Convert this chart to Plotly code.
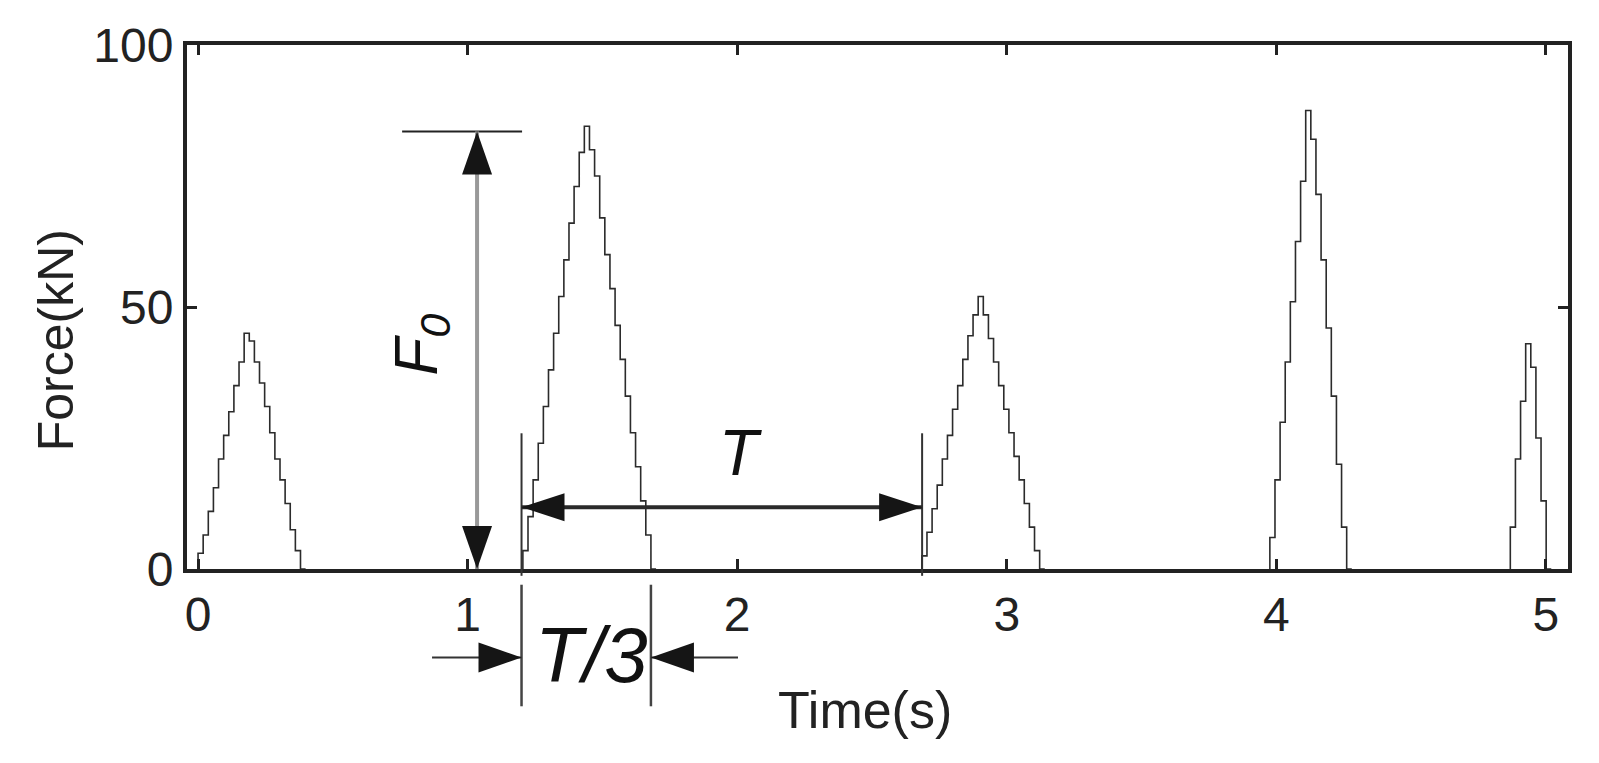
import plotly.graph_objects as go

# sampled force pulses (kN), one list per pulse, sampled every SAMPLE_DT seconds
SAMPLE_DT = 0.019
PULSE_STARTS = [0.0, 1.205, 2.685, 3.976, 4.868]
PULSE_1 = [0, 3, 6.5, 11, 15.5, 21, 25.5, 30, 35, 39.5, 45, 43.5, 39.5, 35.5, 31, 26, 21, 17,
           12.5, 7.5, 3.5, 0]
PULSE_2 = [0, 3.5, 10, 17, 24, 31, 38, 45, 52, 59, 66, 73, 79.5, 84.5, 80, 75, 67, 60, 53.5,
           46.5, 40, 33, 26, 19.5, 13, 6.5, 0]
PULSE_3 = [0, 2.5, 7, 11.5, 16, 21, 25.5, 30.5, 35, 40, 44.5, 48.5, 52, 48.5, 44, 39.5, 35,
           30.5, 26, 21.5, 17, 12.5, 8, 3.5, 0]
PULSE_4 = [0, 6, 17, 28, 39.5, 51, 62.5, 74, 87.5, 82, 71.5, 59, 46, 33, 20, 8, 0]
PULSE_5 = [0, 8, 21, 32, 43, 38.5, 25, 13, 0]
PULSES = [PULSE_1, PULSE_2, PULSE_3, PULSE_4, PULSE_5]

X_TICKS = [0, 1, 2, 3, 4, 5]
Y_TICKS = [0, 50, 100]

# annotation values
F0 = 83.5
F0_X = 1.035
F0_LINE = [0.757, 1.202]
T_START = 1.2
T_END = 2.686
T_THIRD_END = 1.68
T_ARROW_Y = 11.8
T_MARK_TOP = 25.9

FONT = 'Arial, Liberation Sans, Helvetica, sans-serif'
INK = '#222222'

x_all = []
y_all = []
for start, vals in zip(PULSE_STARTS, PULSES):
    x_all += [start + i * SAMPLE_DT for i in range(len(vals))] + [None]
    y_all += vals + [None]

fig = go.Figure()
fig.add_trace(go.Scatter(x=x_all, y=y_all, mode='lines',
                         line={'color': '#2b2b2b', 'width': 1.6, 'shape': 'vh'},
                         hoverinfo='skip', showlegend=False))

shapes = []


def line(x0, y0, x1, y1, color, width, yref='y'):
    shapes.append(dict(type='line', xref='x', yref=yref, x0=x0, y0=y0, x1=x1, y1=y1,
                       line={'color': color, 'width': width}, layer='above'))


def head(x, y, direction, length=43, half=15, yref='y'):
    # filled arrowhead, tip at (x, y), sized in pixels
    paths = {
        'up': f'M0,0 L{-half},{-length} L{half},{-length} Z',
        'down': f'M0,0 L{-half},{length} L{half},{length} Z',
        'right': f'M0,0 L{-length},{half} L{-length},{-half} Z',
        'left': f'M0,0 L{length},{half} L{length},{-half} Z',
    }
    shapes.append(dict(type='path', xref='x', yref=yref, xsizemode='pixel', ysizemode='pixel',
                       xanchor=x, yanchor=y, path=paths[direction],
                       fillcolor='#151515', line={'width': 0}, layer='above'))


# F0 dimension
line(F0_LINE[0], F0, F0_LINE[1], F0, INK, 2)
line(F0_X, 0, F0_X, F0, '#999999', 4)
head(F0_X, F0, 'up')
head(F0_X, 0, 'down')

# T dimension
line(T_START, -0.013, T_START, T_MARK_TOP / 100, '#333333', 2, yref='paper')
line(T_END, -0.013, T_END, T_MARK_TOP / 100, '#333333', 2, yref='paper')
line(T_START, T_ARROW_Y, T_END, T_ARROW_Y, '#2a2a2a', 4)
head(T_START, T_ARROW_Y, 'left', half=14)
head(T_END, T_ARROW_Y, 'right', half=14)

# T/3 dimension below the axis
line(T_START, -0.03, T_START, -0.262, '#444444', 2.5, yref='paper')
line(T_THIRD_END, -0.03, T_THIRD_END, -0.262, '#444444', 2.5, yref='paper')
line(0.868, -0.169, T_START, -0.169, '#333333', 2, yref='paper')
line(T_THIRD_END, -0.169, 2.003, -0.169, '#333333', 2, yref='paper')
head(T_START, -0.169, 'right', yref='paper')
head(T_THIRD_END, -0.169, 'left', yref='paper')

annotations = [
    dict(text='<i>T</i>', x=2.014, y=22.2, xref='x', yref='y', showarrow=False,
         xanchor='center', yanchor='middle',
         font={'size': 64, 'color': '#111111', 'family': FONT}),
    dict(text='<i>T/3</i>', x=1.461, y=-0.165, xref='x', yref='paper', showarrow=False,
         xanchor='center', yanchor='middle',
         font={'size': 78, 'color': '#111111', 'family': FONT}),
    dict(text='<i>F<sub>0</sub></i>', x=0.823, y=42.8, xref='x', yref='y', showarrow=False,
         xanchor='center', yanchor='middle', textangle=-90,
         font={'size': 62, 'color': '#111111', 'family': FONT}),
    dict(text='Force(kN)', x=-0.0947, y=0.437, xref='paper', yref='paper', showarrow=False,
         xanchor='center', yanchor='middle', textangle=-90,
         font={'size': 50, 'color': INK, 'family': FONT}),
    dict(text='Time(s)', x=2.474, y=-0.27, xref='x', yref='paper', showarrow=False,
         xanchor='center', yanchor='middle',
         font={'size': 52, 'color': INK, 'family': FONT}),
]

# the page body adds an 8px offset, so the margins are shifted back by 8px
fig.update_layout(
    width=1599, height=763,
    margin={'l': 179, 'r': 39, 't': 37, 'b': 202},
    paper_bgcolor='white', plot_bgcolor='white',
    font={'family': FONT, 'color': INK, 'size': 48},
    showlegend=False,
    shapes=shapes,
    annotations=annotations,
)
fig.update_xaxes(range=[-0.041, 5.082], tickvals=X_TICKS, ticks='inside', ticklen=10,
                 tickwidth=3, tickcolor=INK, showline=True, linewidth=4, linecolor=INK,
                 mirror='ticks', showgrid=False, zeroline=False,
                 tickfont={'size': 48, 'color': INK})
fig.update_yaxes(range=[0, 100], tickvals=Y_TICKS, ticks='inside', ticklen=10,
                 tickwidth=3, tickcolor=INK, showline=True, linewidth=4, linecolor=INK,
                 mirror='ticks', showgrid=False, zeroline=False,
                 tickfont={'size': 48, 'color': INK})

fig.write_html('out.html')
